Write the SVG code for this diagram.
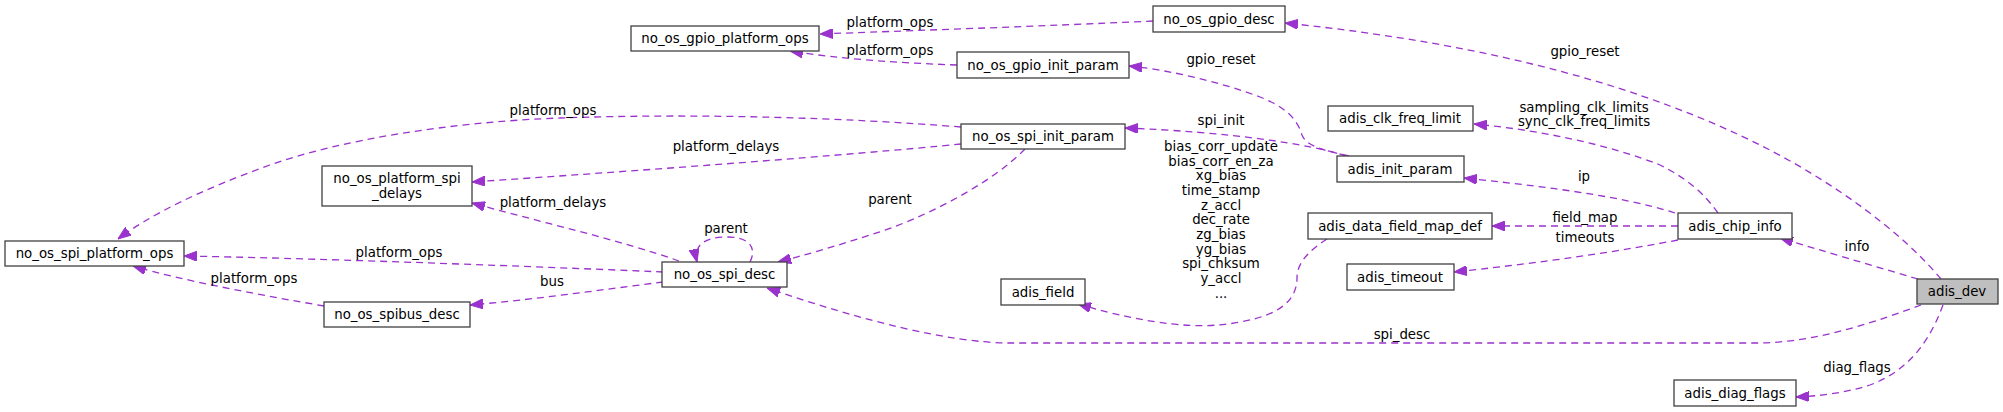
<svg xmlns="http://www.w3.org/2000/svg" width="2003" height="412" viewBox="0 0 2003 412">
<style>
  .node rect { fill: #ffffff; stroke: #404040; stroke-width: 1.3; }
  .node.root rect { fill: #bfbfbf; }
  text { font-family: "DejaVu Sans", "Liberation Sans", sans-serif; font-size: 13.33px; fill: #000000; }
  .node text { text-anchor: middle; }
  .lbl { text-anchor: middle; }
  .edges path { fill: none; stroke: #9a32cd; stroke-width: 1.3; stroke-dasharray: 7,5; marker-end: url(#arr); }
</style>
<defs>
  <marker id="arr" viewBox="0 0 13 10" refX="13" refY="5" markerWidth="13" markerHeight="10" markerUnits="userSpaceOnUse" orient="auto">
    <path d="M0,0 L13,5 L0,10 z" fill="#9a32cd" stroke="#9a32cd" stroke-width="1"/>
  </marker>
</defs>
<rect x="0" y="0" width="2003" height="412" fill="#ffffff"/>

<g id="edges" class="edges">
  <path d="M1153,21 C1050,26 900,31 820,34"/>
  <path d="M957,65 C900,63 840,59 790,51"/>
  <path d="M1349,156 C1320,150 1306,145 1302,135 C1296,115 1280,105 1260,97 C1220,82 1170,70 1129,66"/>
  <path d="M1346,156 C1310,144 1230,132 1125,128"/>
  <path d="M961,127 C850,118 700,113 560,118 C450,122 340,140 270,165 C200,190 150,215 118,239"/>
  <path d="M961,144 C850,155 650,170 472,182"/>
  <path d="M1025,149 C990,185 920,220 870,235 C830,248 805,255 778,262"/>
  <path d="M750,262 C757,248 750,237 727,237 C705,237 693,245 697,262"/>
  <path d="M679,261 C620,240 540,222 472,203"/>
  <path d="M663,272 C500,265 300,258 184,256"/>
  <path d="M663,282 C600,290 530,300 470,305"/>
  <path d="M324,306 C260,295 180,280 133,266"/>
  <path d="M1921,305 C1880,320 1820,342 1760,343 L1010,343 C950,343 860,320 767,288"/>
  <path d="M1327,239 C1310,250 1297,262 1297,278 C1297,300 1280,315 1240,322 C1200,330 1150,325 1078,304"/>
  <path d="M1718,213 C1705,195 1690,180 1660,165 C1610,145 1540,130 1474,124"/>
  <path d="M1675,213 C1620,195 1530,185 1464,178"/>
  <path d="M1678,226 L1492,226"/>
  <path d="M1678,240 C1600,255 1520,265 1454,272"/>
  <path d="M1918,279 C1870,265 1820,250 1780,238"/>
  <path d="M1941,279 C1900,230 1830,180 1760,145 C1650,90 1500,45 1285,23"/>
  <path d="M1943,305 C1930,340 1910,370 1870,385 C1845,393 1820,396 1796,397"/>
  <text class="lbl" x="890" y="27">platform_ops</text>
  <text class="lbl" x="890" y="55">platform_ops</text>
  <text class="lbl" x="1221" y="64">gpio_reset</text>
  <text class="lbl" x="1585" y="56">gpio_reset</text>
  <text class="lbl" x="1221" y="125">spi_init</text>
  <text class="lbl" x="553" y="115">platform_ops</text>
  <text class="lbl" x="726" y="151">platform_delays</text>
  <text class="lbl" x="553" y="207">platform_delays</text>
  <text class="lbl" x="890" y="204">parent</text>
  <text class="lbl" x="726" y="233">parent</text>
  <text class="lbl" x="399" y="257">platform_ops</text>
  <text class="lbl" x="254" y="283">platform_ops</text>
  <text class="lbl" x="552" y="286">bus</text>
  <text class="lbl" x="1221" y="151">bias_corr_update</text>
  <text class="lbl" x="1221" y="166">bias_corr_en_za</text>
  <text class="lbl" x="1221" y="180">xg_bias</text>
  <text class="lbl" x="1221" y="195">time_stamp</text>
  <text class="lbl" x="1221" y="210">z_accl</text>
  <text class="lbl" x="1221" y="224">dec_rate</text>
  <text class="lbl" x="1221" y="239">zg_bias</text>
  <text class="lbl" x="1221" y="254">yg_bias</text>
  <text class="lbl" x="1221" y="268">spi_chksum</text>
  <text class="lbl" x="1221" y="283">y_accl</text>
  <text class="lbl" x="1221" y="298">...</text>
  <text class="lbl" x="1584" y="112">sampling_clk_limits</text>
  <text class="lbl" x="1584" y="126">sync_clk_freq_limits</text>
  <text class="lbl" x="1584" y="181">ip</text>
  <text class="lbl" x="1585" y="222">field_map</text>
  <text class="lbl" x="1585" y="242">timeouts</text>
  <text class="lbl" x="1857" y="251">info</text>
  <text class="lbl" x="1402" y="339">spi_desc</text>
  <text class="lbl" x="1857" y="372">diag_flags</text>
</g>

<g id="adis_dev" class="node root"><rect x="1917" y="279" width="81" height="25"/><text x="1957" y="296">adis_dev</text></g>
<g id="adis_chip_info" class="node"><rect x="1678" y="213" width="114" height="26"/><text x="1735" y="231">adis_chip_info</text></g>
<g id="adis_diag_flags" class="node"><rect x="1674" y="380" width="122" height="26"/><text x="1735" y="398">adis_diag_flags</text></g>
<g id="adis_clk_freq_limit" class="node"><rect x="1328" y="106" width="145" height="25"/><text x="1400" y="123">adis_clk_freq_limit</text></g>
<g id="adis_init_param" class="node"><rect x="1337" y="156" width="127" height="26"/><text x="1400" y="174">adis_init_param</text></g>
<g id="adis_data_field_map_def" class="node"><rect x="1308" y="213" width="184" height="26"/><text x="1400" y="231">adis_data_field_map_def</text></g>
<g id="adis_timeout" class="node"><rect x="1347" y="264" width="107" height="26"/><text x="1400" y="282">adis_timeout</text></g>
<g id="no_os_gpio_desc" class="node"><rect x="1153" y="6" width="132" height="26"/><text x="1219" y="24">no_os_gpio_desc</text></g>
<g id="no_os_gpio_init_param" class="node"><rect x="957" y="52" width="172" height="26"/><text x="1043" y="70">no_os_gpio_init_param</text></g>
<g id="no_os_spi_init_param" class="node"><rect x="961" y="124" width="164" height="25"/><text x="1043" y="141">no_os_spi_init_param</text></g>
<g id="adis_field" class="node"><rect x="1001" y="279" width="84" height="26"/><text x="1043" y="297">adis_field</text></g>
<g id="no_os_gpio_platform_ops" class="node"><rect x="631" y="26" width="188" height="25"/><text x="725" y="43">no_os_gpio_platform_ops</text></g>
<g id="no_os_spi_desc" class="node"><rect x="662" y="262" width="125" height="25"/><text x="724.5" y="279">no_os_spi_desc</text></g>
<g id="no_os_platform_spi_delays" class="node"><rect x="322" y="166" width="150" height="40"/><text x="397" y="183">no_os_platform_spi</text><text x="397" y="198">_delays</text></g>
<g id="no_os_spibus_desc" class="node"><rect x="324" y="302" width="146" height="25"/><text x="397" y="319">no_os_spibus_desc</text></g>
<g id="no_os_spi_platform_ops" class="node"><rect x="5" y="241" width="179" height="25"/><text x="94.5" y="258">no_os_spi_platform_ops</text></g>
</svg>
